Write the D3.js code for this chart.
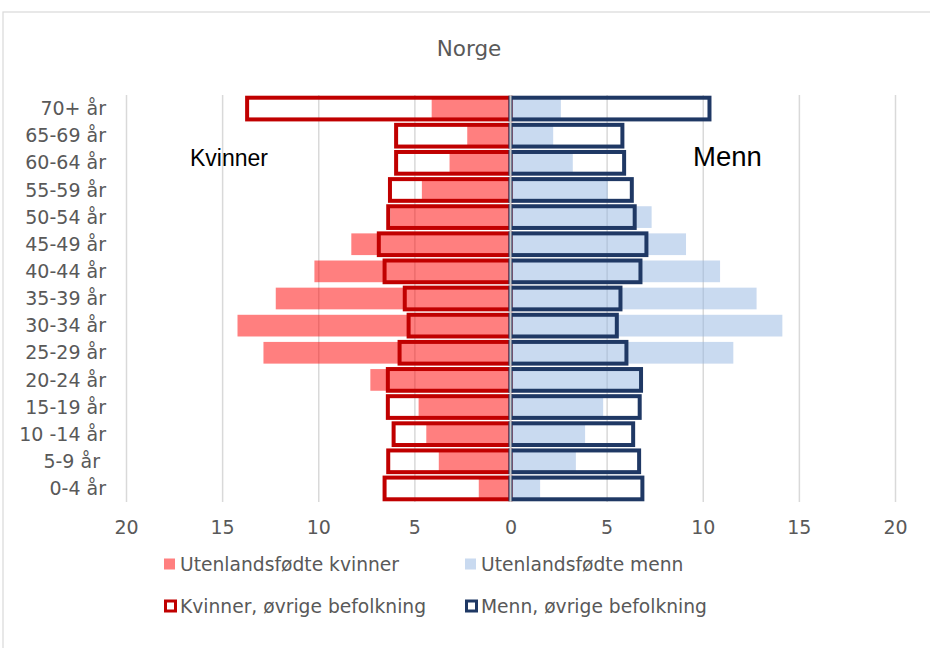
<!DOCTYPE html>
<html>
<head>
<meta charset="utf-8">
<script src="https://cdn.jsdelivr.net/npm/d3@7"></script>
<style>
  html, body { margin: 0; padding: 0; background: #fff; }
  svg { display: block; }
  text { font-family: "DejaVu Sans", Verdana, sans-serif; }
</style>
</head>
<body>
<script>
const title = "Norge";
const categories = ["70+ år","65-69 år","60-64 år","55-59 år","50-54 år","45-49 år","40-44 år","35-39 år","30-34 år","25-29 år","20-24 år","15-19 år","10 -14 år","5-9 år ","0-4 år"];
const womenForeign = [4.1, 2.25, 3.17, 4.61, 6.25, 8.28, 10.2, 12.21, 14.2, 12.85, 7.29, 4.78, 4.38, 3.73, 1.65];
const womenOther   = [13.7, 5.95, 5.95, 6.27, 6.36, 6.85, 6.55, 5.5, 5.3, 5.77, 6.38, 6.38, 6.08, 6.36, 6.55];
const menForeign   = [2.62, 2.22, 3.24, 5.06, 7.34, 9.13, 10.9, 12.8, 14.14, 11.59, 6.7, 4.82, 3.88, 3.40, 1.54];
const menOther     = [10.35, 5.82, 5.91, 6.31, 6.46, 7.07, 6.76, 5.72, 5.53, 6.03, 6.79, 6.72, 6.38, 6.69, 6.86];
const xTicks = [-20, -15, -10, -5, 0, 5, 10, 15, 20];
const legendLabels = ["Utenlandsfødte kvinner", "Utenlandsfødte menn", "Kvinner, øvrige befolkning", "Menn, øvrige befolkning"];
const sideLabels = ["Kvinner", "Menn"];

const W = 930, H = 648;
const svg = d3.select("body").append("svg").attr("width", W).attr("height", H);

// chart frame
svg.append("rect").attr("x", 3).attr("y", 12).attr("width", 960).attr("height", 700)
  .attr("fill", "#fff").attr("stroke", "#d9d9d9").attr("stroke-width", 1.2);

const x = d3.scaleLinear().domain([-20, 20]).range([126, 895]);
const y = d3.scaleBand().domain(categories).range([95, 502]).paddingInner(0.2).paddingOuter(0.1);

// title
svg.append("text").attr("x", 469).attr("y", 56).attr("text-anchor", "middle")
  .attr("font-size", 21.5).attr("fill", "#595959").text(title);

// gridlines
const grid = svg.append("g").attr("transform", "translate(0,502)")
  .call(d3.axisBottom(x).tickValues(xTicks).tickSize(-(502 - 95)).tickFormat(""));
grid.select(".domain").remove();
grid.selectAll("line").attr("stroke", "#d9d9d9").attr("stroke-width", 1.5);

// foreign-born bars (semi-transparent)
const rows = categories.map((c, i) => ({ c, wf: womenForeign[i], wo: womenOther[i], mf: menForeign[i], mo: menOther[i] }));

svg.append("g").selectAll("rect").data(rows).join("rect")
  .attr("x", d => x(-d.wf)).attr("width", d => x(0) - x(-d.wf))
  .attr("y", d => y(d.c)).attr("height", y.bandwidth())
  .attr("fill", "#ff0000").attr("fill-opacity", 0.5);

svg.append("g").selectAll("rect").data(rows).join("rect")
  .attr("x", x(0)).attr("width", d => x(d.mf) - x(0))
  .attr("y", d => y(d.c)).attr("height", y.bandwidth())
  .attr("fill", "#94b6e2").attr("fill-opacity", 0.5);

// other population outlines
svg.append("g").selectAll("rect").data(rows).join("rect")
  .attr("x", d => x(-d.wo)).attr("width", d => x(0) - x(-d.wo))
  .attr("y", d => y(d.c)).attr("height", y.bandwidth())
  .attr("fill", "none").attr("stroke", "#c00000").attr("stroke-width", 4);

svg.append("g").selectAll("rect").data(rows).join("rect")
  .attr("x", x(0)).attr("width", d => x(d.mo) - x(0))
  .attr("y", d => y(d.c)).attr("height", y.bandwidth())
  .attr("fill", "none").attr("stroke", "#1f3864").attr("stroke-width", 4);

// zero axis line on top
svg.append("line").attr("x1", x(0)).attr("x2", x(0)).attr("y1", 95).attr("y2", 502)
  .attr("stroke", "#c8c8c8").attr("stroke-width", 2);

// x axis labels
const xa = svg.append("g").attr("transform", "translate(0,516)")
  .call(d3.axisBottom(x).tickValues(xTicks).tickSize(0).tickPadding(4).tickFormat(d => Math.abs(d)));
xa.select(".domain").remove();
xa.selectAll("text").attr("font-size", 19).attr("fill", "#595959")
  .style("font-family", "'DejaVu Sans', Verdana, sans-serif");

// y axis labels
const ya = svg.append("g").attr("transform", "translate(126,0)")
  .call(d3.axisLeft(y).tickSize(0).tickPadding(20));
ya.select(".domain").remove();
ya.selectAll("text").attr("font-size", 19).attr("fill", "#595959").attr("dy", "0.35em")
  .style("white-space", "pre").style("font-family", "'DejaVu Sans', Verdana, sans-serif");

// side labels
svg.append("text").attr("x", 190).attr("y", 166).attr("font-size", 23)
  .style("font-family", "'Liberation Sans', Arial, sans-serif").attr("fill", "#000").text(sideLabels[0]);
svg.append("text").attr("x", 693).attr("y", 166).attr("font-size", 27.5)
  .style("font-family", "'Liberation Sans', Arial, sans-serif").attr("fill", "#000").text(sideLabels[1]);

// legend
const leg = [
  { label: legendLabels[0], x: 164, y: 564, type: "fill", color: "#ff0000" },
  { label: legendLabels[1], x: 465, y: 564, type: "fill", color: "#94b6e2" },
  { label: legendLabels[2], x: 164, y: 606, type: "outline", color: "#c00000" },
  { label: legendLabels[3], x: 465, y: 606, type: "outline", color: "#1f3864" }
];
const lg = svg.append("g").selectAll("g").data(leg).join("g");
lg.filter(d => d.type === "fill").append("rect")
  .attr("x", d => d.x).attr("y", d => d.y - 5.5).attr("width", 11).attr("height", 11)
  .attr("fill", d => d.color).attr("fill-opacity", 0.5);
lg.filter(d => d.type === "outline").append("rect")
  .attr("x", d => d.x + 1.5).attr("y", d => d.y - 5).attr("width", 10).attr("height", 10)
  .attr("fill", "#fff").attr("stroke", d => d.color).attr("stroke-width", 3);
lg.append("text").attr("x", d => d.x + 16).attr("y", d => d.y).attr("dy", "0.35em")
  .attr("font-size", 18.7).attr("fill", "#595959").text(d => d.label);
</script>
</body>
</html>
